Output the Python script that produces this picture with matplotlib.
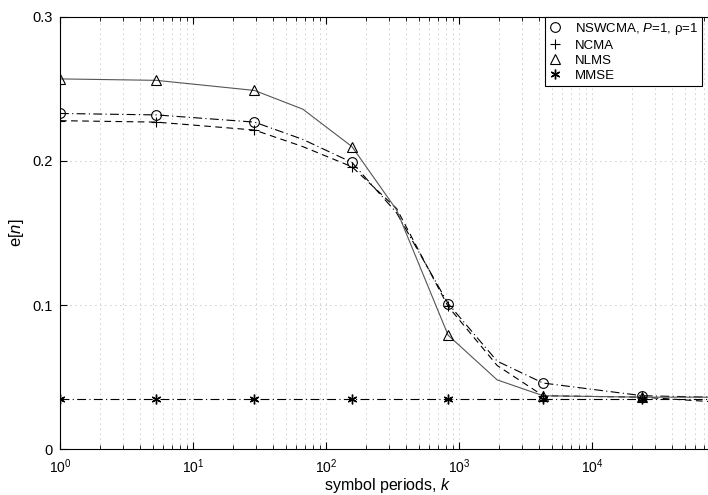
import numpy as np
import matplotlib
matplotlib.use('Agg')
from matplotlib import pyplot as plt
from matplotlib.ticker import LogLocator, NullFormatter, FixedLocator

plt.rcParams['font.family'] = ['Liberation Sans', 'DejaVu Sans']
plt.rcParams['mathtext.fontset'] = 'custom'
plt.rcParams['mathtext.rm'] = 'Liberation Sans'
plt.rcParams['mathtext.it'] = 'Liberation Sans:italic'

# symbol periods
k = [1, 5.3, 29, 67, 157, 340, 830, 1940, 4300, 24000, 75000]
nswcma = [0.233, 0.232, 0.227, 0.215, 0.199, 0.164, 0.101, 0.061, 0.0458, 0.037, 0.036]
ncma = [0.228, 0.227, 0.2215, 0.210, 0.196, 0.167, 0.099, 0.058, 0.037, 0.036, 0.033]
nlms = [0.257, 0.256, 0.249, 0.236, 0.210, 0.166, 0.079, 0.048, 0.037, 0.036, 0.036]
mmse = [0.0347] * len(k)
marks = [0, 1, 2, 4, 6, 8, 9]

labels = ['NSWCMA, $P$=1, \u03c1=1', 'NCMA', 'NLMS', 'MMSE']


def main():
    fig = plt.figure(figsize=(7.08, 4.95), dpi=100)
    ax = fig.add_axes([0.0847, 0.0929, 0.925, 0.8728])

    lw = 0.8
    ax.plot(k, nswcma, color='k', lw=lw, ls=(0, (8, 3, 1, 3)), marker='o', ms=7,
            mfc='none', mew=0.8, markevery=marks, label=labels[0])
    ax.plot(k, ncma, color='k', lw=lw, ls=(0, (6, 4)), marker='+', ms=7,
            mew=0.8, markevery=marks, label=labels[1])
    ax.plot(k, nlms, color='#555555', lw=lw, ls='-', marker='^', ms=7,
            mfc='none', mec='k', mew=0.8, markevery=marks, label=labels[2])
    ax.plot(k, mmse, color='k', lw=lw, ls=(0, (8, 3, 1, 3)), marker=(6, 2, 0), ms=7,
            mew=1.0, markevery=marks, label=labels[3])

    ax.set_xscale('log')
    ax.set_xlim(1, 10 ** 4.925)
    ax.set_ylim(0, 0.3)
    ax.yaxis.set_major_locator(FixedLocator([0, 0.1, 0.2, 0.3]))
    ax.set_yticklabels(['0', '0.1', '0.2', '0.3'])
    ax.xaxis.set_major_locator(LogLocator(base=10, numticks=10))
    ax.xaxis.set_minor_locator(LogLocator(base=10, subs=np.arange(2, 10), numticks=20))
    ax.xaxis.set_minor_formatter(NullFormatter())

    ax.tick_params(which='both', direction='in', top=True, right=False, labelsize=10.5)
    ax.tick_params(axis='y', which='major', pad=5)
    ax.tick_params(axis='x', which='major', pad=6, labelsize=10)
    ax.tick_params(which='major', length=5)
    ax.tick_params(which='minor', length=3)
    ax.grid(True, which='both', axis='x', ls=(0, (1, 5)), color='#999999', lw=0.6)
    ax.grid(True, which='major', axis='y', ls=(0, (1, 5)), color='#999999', lw=0.6)
    ax.spines['right'].set_visible(False)

    ax.set_xlabel('symbol periods, $k$', fontsize=11.5, labelpad=0)
    ax.set_ylabel('e[$n$]', fontsize=12, labelpad=5)

    leg = ax.legend(loc='upper left', bbox_to_anchor=(0.7402, 1.0), fontsize=9.5,
                    frameon=True, fancybox=False, edgecolor='k', handlelength=1.0,
                    handletextpad=1.0, labelspacing=0.2, borderaxespad=0.0,
                    borderpad=0.3, framealpha=1)
    for h in leg.legend_handles:
        h.set_linestyle('none')
    leg.get_frame().set_linewidth(0.8)

    fig.savefig('out.png', dpi=100)


if __name__ == '__main__':
    main()
